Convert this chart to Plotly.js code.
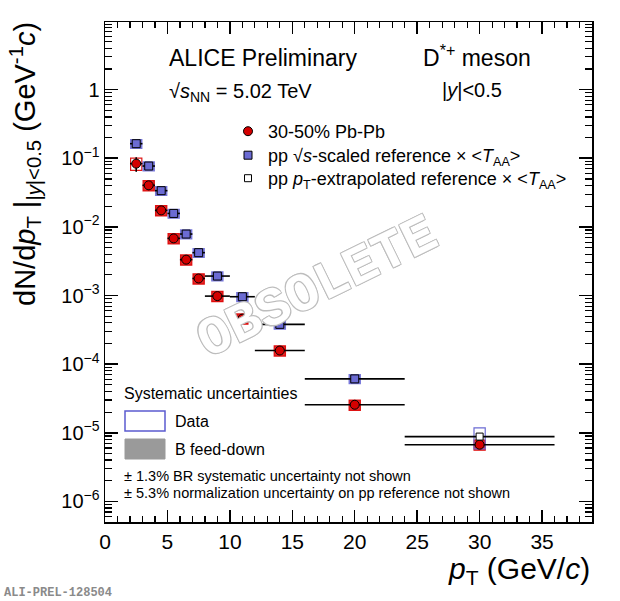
<!DOCTYPE html>
<html>
<head>
<meta charset="utf-8">
<script src="https://cdn.plot.ly/plotly-3.0.1.min.js"></script>
<style>
  html, body { margin: 0; padding: 0; background: #fff; }
  #chart { width: 620px; height: 601px; }
</style>
</head>
<body>
<div id="chart"></div>
<script>
// pT bins (GeV/c): centres and half widths
const ptCent = [2.5, 3.5, 4.5, 5.5, 6.5, 7.5, 9, 11, 14, 20, 30];
const ptHalf = [0.5, 0.5, 0.5, 0.5, 0.5, 0.5, 1, 1, 2, 4, 6];

// 30-50% Pb-Pb yields, stat errors, relative syst
const pbpbYield = [0.0834, 0.0403, 0.0174, 0.0068, 0.00333, 0.00177, 0.00098, 0.00046, 0.000158, 2.56e-5, 6.7e-6];
const pbpbStat = [0.02, 0.006, 0.0018, 0.0007, 0.0003, 0.00016, 0.00009, 0.00004, 0.000014, 2.4e-6, 8e-7];
const pbpbSyst = [0.2, 0.17, 0.17, 0.17, 0.17, 0.17, 0.17, 0.17, 0.17, 0.17, 0.17];

// pp sqrt(s)-scaled reference x <TAA> (up to 24 GeV/c)
const ppPt = [2.5, 3.5, 4.5, 5.5, 6.5, 7.5, 9, 11, 14, 20];
const ppHalf = [0.5, 0.5, 0.5, 0.5, 0.5, 0.5, 1, 1, 2, 4];
const ppYield = [0.163, 0.077, 0.0337, 0.0157, 0.00786, 0.00421, 0.00192, 0.00096, 0.00038, 6.1e-5];
const ppStat = [0.006, 0.003, 0.0012, 0.0005, 0.00025, 0.00013, 0.00006, 0.00003, 0.000012, 2.5e-6];
const ppSyst = [0.15, 0.15, 0.15, 0.15, 0.15, 0.15, 0.15, 0.15, 0.15, 0.15];

// pp pT-extrapolated reference x <TAA>
const ppExtPt = [30];
const ppExtHalf = [6];
const ppExtYield = [8.8e-6];
const ppExtStat = [4e-7];
const ppExtSyst = [0.34];

const yTickVals = [1e-6, 1e-5, 1e-4, 1e-3, 1e-2, 1e-1, 1];
const yTickText = ['10<sup>−6</sup>', '10<sup>−5</sup>', '10<sup>−4</sup>', '10<sup>−3</sup>', '10<sup>−2</sup>', '10<sup>−1</sup>', '1'];

const FONT = 'Liberation Sans, Arial, Helvetica, sans-serif';
const RED = '#d40000';
const BLUE = '#6b6bd3';
const BOX_HALF = 0.45;

// plot frame in pixels, used to place the paper-anchored texts
const L = 105, R = 28, T = 22, B = 79, W = 620, H = 601;
const px = (x) => (x - L) / (W - L - R);
const py = (y) => (H - B - y) / (H - T - B);

const minorY = [];
for (let d = -7; d <= 1; d++) {
  for (let k = 2; k <= 9; k++) minorY.push(k * Math.pow(10, d));
}

function systBoxes(xs, ys, rel, fill, edge, openFirst) {
  return xs.map((x, i) => ({
    type: 'rect', xref: 'x', yref: 'y', layer: 'below',
    x0: x - BOX_HALF, x1: x + BOX_HALF,
    y0: ys[i] * (1 - rel[i]), y1: ys[i] * (1 + rel[i]),
    fillcolor: openFirst && i === 0 ? 'rgba(0,0,0,0)' : fill,
    line: { color: edge, width: 1.2 },
  }));
}

const errStyle = { type: 'data', color: '#000', thickness: 1.6, width: 0 };

const traces = [
  {
    x: ptCent, y: pbpbYield, mode: 'markers', type: 'scatter',
    name: '30-50% Pb-Pb', legend: 'legend',
    error_x: { ...errStyle, array: ptHalf },
    error_y: { ...errStyle, array: pbpbStat },
    marker: { symbol: 'circle', size: 9, color: RED, line: { color: '#000', width: 1 } },
  },
  {
    x: ppPt, y: ppYield, mode: 'markers', type: 'scatter',
    name: 'pp √<i>s</i>-scaled reference × &lt;<i>T</i><sub>AA</sub>&gt;', legend: 'legend2',
    error_x: { ...errStyle, array: ppHalf },
    error_y: { ...errStyle, array: ppStat },
    marker: { symbol: 'square', size: 8, color: BLUE, line: { color: '#000', width: 1 } },
  },
  {
    x: ppExtPt, y: ppExtYield, mode: 'markers', type: 'scatter',
    name: 'pp <i>p</i><sub>T</sub>-extrapolated reference × &lt;<i>T</i><sub>AA</sub>&gt;', legend: 'legend3',
    error_x: { ...errStyle, array: ppExtHalf },
    error_y: { ...errStyle, array: ppExtStat },
    marker: { symbol: 'square', size: 7, color: '#fff', line: { color: '#000', width: 1 } },
  },
];

const shapes = [
  ...systBoxes(ptCent, pbpbYield, pbpbSyst, 'rgba(230,20,20,0.9)', 'rgba(220,0,0,0.9)', true),
  ...systBoxes(ppPt, ppYield, ppSyst, 'rgba(110,110,215,0.85)', 'rgba(110,110,215,0.9)', false),
  ...systBoxes(ppExtPt, ppExtYield, ppExtSyst, 'rgba(0,0,0,0)', '#6b6bd3', false),
  // legend boxes for the systematic uncertainties
  { type: 'rect', xref: 'paper', yref: 'paper', x0: px(125), x1: px(165), y0: py(431), y1: py(411),
    fillcolor: 'rgba(0,0,0,0)', line: { color: '#5b5bd0', width: 1.5 } },
  { type: 'rect', xref: 'paper', yref: 'paper', x0: px(125), x1: px(165), y0: py(459), y1: py(439),
    fillcolor: '#9a9a9a', line: { color: '#9a9a9a', width: 1 } },
];

function label(text, x, y, size, extra) {
  return {
    text, xref: 'paper', yref: 'paper', x: px(x), y: py(y),
    xanchor: 'left', yanchor: 'middle', showarrow: false,
    font: { family: FONT, size, color: '#000' }, ...extra,
  };
}

const annotations = [
  label('ALICE Preliminary', 167, 58, 23),
  label('D<sup>*+</sup> meson', 421, 56, 23),
  label('√<i>s</i><sub>NN</sub> = 5.02 TeV', 167, 92, 20),
  label('|<i>y</i>|&lt;0.5', 440, 90, 20),
  label('Systematic uncertainties', 122, 393, 16),
  label('Data', 173, 421, 16),
  label('B feed-down', 173, 449, 16),
  label('± 1.3% BR systematic uncertainty not shown', 122, 476, 14.5),
  label('± 5.3% normalization uncertainty on pp reference not shown', 122, 493, 14.5),
  label('<i>p</i><sub>T</sub> (GeV/<i>c</i>)', 592, 570, 30, { xanchor: 'right' }),
  label('dN/d<i>p</i><sub>T</sub> |<sub>|<i>y</i>|&lt;0.5</sub> (GeV<sup>-1</sup><i>c</i>)', 25, 20, 29,
    { xanchor: 'center', yanchor: 'top', textangle: -90 }),
  label('ALI-PREL-128504', 2, 593, 12,
    { font: { family: 'Liberation Mono, DejaVu Sans Mono, monospace', size: 12, color: '#8a8a8a', weight: 'bold' } }),
  {
    text: 'OBSOLETE', xref: 'paper', yref: 'paper', x: px(317), y: py(288),
    showarrow: false, textangle: -26,
    font: {
      family: 'Liberation Mono, Courier New, monospace', size: 54, color: '#ffffff', weight: 'bold',
      shadow: '1px 1px 0 #bdbdbd, -1px -1px 0 #bdbdbd, 1px -1px 0 #bdbdbd, -1px 1px 0 #bdbdbd',
    },
  },
];

function legendAt(topPx) {
  return {
    x: px(228), y: py(topPx), xanchor: 'left', yanchor: 'top',
    bgcolor: 'rgba(0,0,0,0)', font: { family: FONT, size: 18 },
    itemwidth: 30, tracegroupgap: 0,
  };
}

const layout = {
  width: W, height: H,
  margin: { l: L, r: R, t: T, b: B },
  paper_bgcolor: '#fff', plot_bgcolor: '#fff',
  font: { family: FONT, color: '#000' },
  showlegend: true,
  legend: legendAt(113),
  legend2: legendAt(137),
  legend3: legendAt(160),
  xaxis: {
    range: [0, 39], tick0: 0, dtick: 5,
    ticks: 'inside', ticklen: 12, tickwidth: 1.5, tickcolor: '#000',
    showline: true, linewidth: 1.5, linecolor: '#000', mirror: 'allticks',
    showgrid: false, zeroline: false,
    tickfont: { family: FONT, size: 21 },
    minor: { ticks: 'inside', ticklen: 6, tickwidth: 1.2, dtick: 1, showgrid: false },
  },
  yaxis: {
    type: 'log', range: [-6.3, 0.985],
    tickmode: 'array', tickvals: yTickVals, ticktext: yTickText,
    ticks: 'inside', ticklen: 13, tickwidth: 1.5, tickcolor: '#000',
    showline: true, linewidth: 1.5, linecolor: '#000', mirror: 'allticks',
    showgrid: false, zeroline: false,
    tickfont: { family: FONT, size: 20 },
    minor: { ticks: 'inside', ticklen: 7, tickwidth: 1.2, tickmode: 'array', tickvals: minorY, showgrid: false },
  },
  shapes,
  annotations,
};

Plotly.newPlot('chart', traces, layout, { displayModeBar: false, staticPlot: true });
</script>
</body>
</html>
